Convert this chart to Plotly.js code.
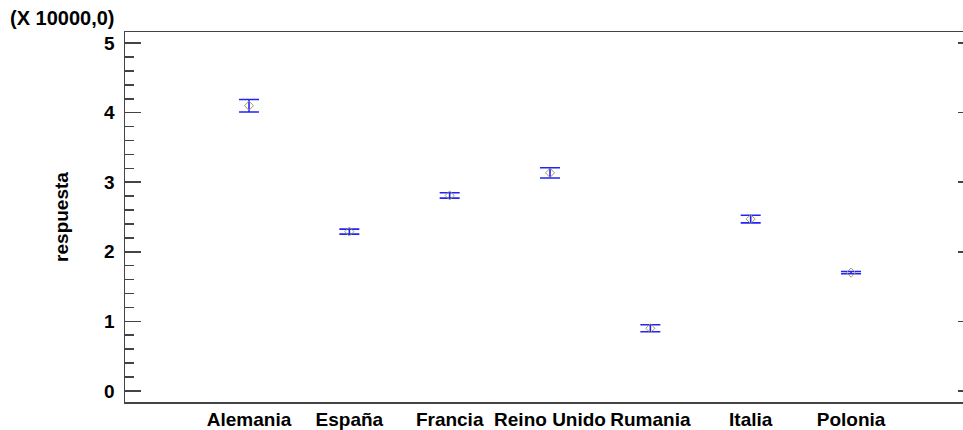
<!DOCTYPE html>
<html>
<head>
<meta charset="utf-8">
<script src="https://cdn.plot.ly/plotly-3.0.1.min.js"></script>
<style>html,body{margin:0;padding:0;background:#fff;}#chart{width:963px;height:430px;}</style>
</head>
<body>
<div id="chart"></div>
<script>
// Data (units of 10000)
const categories = ["Alemania", "España", "Francia", "Reino Unido", "Rumania", "Italia", "Polonia"];
const means = [4.10, 2.29, 2.81, 3.135, 0.90, 2.47, 1.70];
const halfWidths = [0.09, 0.036, 0.038, 0.074, 0.05, 0.055, 0.017];
const yTickVals = [0, 1, 2, 3, 4, 5];
const yTickText = ["0", "1", "2", "3", "4", "5"];

const font = {family: "Liberation Sans, Arial, sans-serif", size: 19, color: "#000", weight: 700};
const titleFont = {family: "Liberation Sans, Arial, sans-serif", size: 20, color: "#000", weight: 700};
const axisColor = "#444";

const traces = [
  {
    type: "scatter",
    mode: "markers",
    x: categories,
    y: means,
    error_y: {type: "data", array: halfWidths, visible: true, color: "#2222ff", thickness: 1.6, width: 10},
    marker: {symbol: "diamond-open", size: 7, color: "#a09a50", line: {width: 1}},
    hoverinfo: "x+y",
    showlegend: false
  },
  {
    type: "scatter",
    mode: "none",
    x: categories,
    y: means,
    yaxis: "y2",
    hoverinfo: "skip",
    showlegend: false
  }
];

const layout = {
  width: 963,
  height: 430,
  margin: {l: 125, r: 0, t: 32, b: 28},
  paper_bgcolor: "#fff",
  plot_bgcolor: "#fff",
  font: font,
  title: {
    text: "(X 10000,0)",
    font: titleFont,
    xref: "container", yref: "container",
    x: 10 / 963, xanchor: "left",
    y: 1 - 18 / 430, yanchor: "middle"
  },
  xaxis: {
    type: "category",
    categoryorder: "array",
    categoryarray: categories,
    range: [-1.236, 7.116],
    showgrid: false,
    zeroline: false,
    showline: true,
    linecolor: axisColor,
    linewidth: 1.5,
    mirror: true,
    ticks: "",
    tickfont: font,
    ticklabelstandoff: 0
  },
  yaxis: {
    range: [-0.16, 5.16],
    showgrid: false,
    zeroline: false,
    showline: true,
    linecolor: axisColor,
    linewidth: 1.5,
    ticks: "inside",
    ticklen: 16,
    tickwidth: 1.5,
    tickcolor: axisColor,
    tickvals: yTickVals,
    ticktext: yTickText,
    tickfont: font,
    ticklabelstandoff: 5,
    minor: {ticks: "inside", ticklen: 9, tickwidth: 1.5, tickcolor: axisColor, dtick: 0.2, showgrid: false},
    title: {text: "respuesta", font: font, standoff: 30}
  },
  yaxis2: {
    overlaying: "y",
    side: "right",
    range: [-0.16, 5.16],
    showgrid: false,
    zeroline: false,
    showline: false,
    ticks: "inside",
    ticklen: 5,
    tickwidth: 1.5,
    tickcolor: axisColor,
    tickvals: yTickVals,
    showticklabels: false
  }
};

Plotly.newPlot("chart", traces, layout, {displayModeBar: false, staticPlot: true});
</script>
</body>
</html>
